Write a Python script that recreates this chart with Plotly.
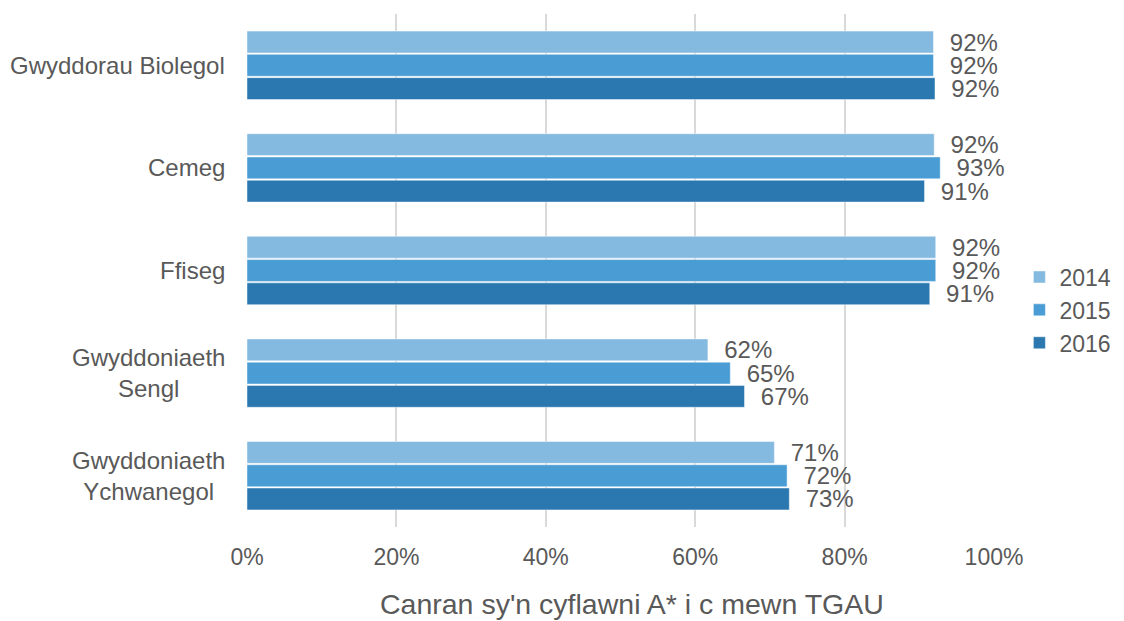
import plotly.graph_objects as go

categories = ["Gwyddorau Biolegol", "Cemeg", "Ffiseg", "Gwyddoniaeth<br>Sengl", "Gwyddoniaeth<br>Ychwanegol"]
years = ["2014", "2015", "2016"]
values_2014 = [0.919, 0.920, 0.922, 0.617, 0.706]
values_2015 = [0.919, 0.928, 0.922, 0.647, 0.723]
values_2016 = [0.921, 0.907, 0.914, 0.666, 0.726]
colors = ["#85BAE0", "#4A9CD4", "#2B78B0"]
x_title = "Canran sy'n cyflawni A* i c mewn TGAU"

series = [values_2014, values_2015, values_2016]
FONT = "Liberation Sans, Arial, sans-serif"
GREY = "#595959"

fig = go.Figure()
for name, vals, col in zip(years, series, colors):
    fig.add_trace(go.Bar(
        y=categories, x=vals, name=name, orientation="h",
        marker=dict(color=col, line=dict(color="rgba(255,255,255,0.45)", width=1)),
        texttemplate="  %{x:.0%}", textposition="outside",
        textfont=dict(family=FONT, size=24, color=GREY),
        constraintext="none", cliponaxis=False,
    ))

annotations = []
for c in categories:
    annotations.append(dict(
        x=0, y=c, xref="paper", yref="y", xanchor="right", yanchor="middle",
        xshift=-20, text=c, showarrow=False, align="center",
        font=dict(family=FONT, size=24, color=GREY),
    ))
annotations.append(dict(
    x=0.5, y=0, xref="paper", yref="paper", xanchor="center", yanchor="middle",
    xshift=11, yshift=-77, text=x_title, showarrow=False,
    font=dict(family=FONT, size=28.5, color=GREY),
))

fig.update_layout(
    width=1124, height=621,
    paper_bgcolor="white", plot_bgcolor="white",
    margin=dict(l=239, r=138, t=6, b=102, autoexpand=False),
    barmode="group", bargap=0.32, bargroupgap=0.06,
    font=dict(family=FONT, size=24, color=GREY),
    legend=dict(x=1.034, y=0.423, xanchor="left", yanchor="middle",
                font=dict(family=FONT, size=23, color=GREY), traceorder="normal",
                itemwidth=30, tracegroupgap=0),
    annotations=annotations,
    showlegend=True,
)
fig.update_xaxes(
    range=[0, 1], dtick=0.2, tickformat=".0%", showgrid=True,
    gridcolor="#D9D9D9", gridwidth=2, zeroline=False, showline=False,
    ticks="outside", ticklen=9, tickcolor="rgba(0,0,0,0)",
    tickfont=dict(family=FONT, size=23, color=GREY),
)
fig.update_yaxes(autorange="reversed", showticklabels=False, showgrid=False,
                 zeroline=False, showline=False)

fig.write_html("out.html")
